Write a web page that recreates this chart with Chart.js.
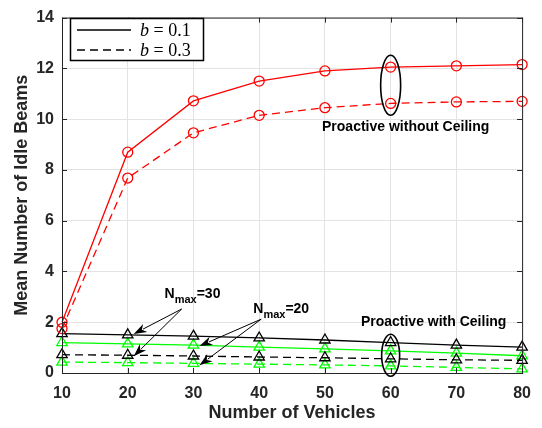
<!DOCTYPE html>
<html>
<head>
<meta charset="utf-8">
<script src="https://cdn.jsdelivr.net/npm/chart.js@4/dist/chart.umd.min.js"></script>
<style>
html,body{margin:0;padding:0;background:#fff;}
#wrap{width:542px;height:428px;}
</style>
</head>
<body>
<div id="wrap"><canvas id="c" width="542" height="428"></canvas></div>
<script>
const vehicles = [10, 20, 30, 40, 50, 60, 70, 80];
const noCeilB01 = [2.0, 8.7, 10.72, 11.5, 11.9, 12.05, 12.1, 12.15];
const noCeilB03 = [1.75, 7.68, 9.46, 10.15, 10.45, 10.62, 10.68, 10.7];
const n30B01 = [1.55, 1.5, 1.45, 1.38, 1.3, 1.2, 1.1, 1.02];
const n30B03 = [0.72, 0.7, 0.67, 0.63, 0.6, 0.56, 0.52, 0.5];
const n20B01 = [1.2, 1.15, 1.1, 1.02, 0.95, 0.87, 0.78, 0.68];
const n20B03 = [0.43, 0.41, 0.38, 0.35, 0.32, 0.28, 0.22, 0.16];
const yTicks = [0, 2, 4, 6, 8, 10, 12, 14];
const xTicks = [10, 20, 30, 40, 50, 60, 70, 80];

const RED = '#ff0000', GREEN = '#00ff00', BLACK = '#000000';
const DASH = [8, 5];

function ds(label, data, color, dashed, style) {
  return {
    label: label,
    data: vehicles.map((v, i) => ({x: v, y: data[i]})),
    borderColor: color,
    backgroundColor: 'rgba(0,0,0,0)',
    borderWidth: 1.3,
    borderDash: dashed ? DASH : [],
    pointStyle: style,
    pointRadius: style === 'circle' ? 5 : 6,
    pointBorderColor: color,
    pointBackgroundColor: 'rgba(0,0,0,0)',
    pointBorderWidth: 1.3,
    tension: 0
  };
}

const overlay = {
  id: 'overlay',
  afterDraw(chart) {
    const ctx = chart.ctx;
    const xs = chart.scales.x, ys = chart.scales.y;
    const a = chart.chartArea;
    const X = v => xs.getPixelForValue(v), Y = v => ys.getPixelForValue(v);
    ctx.save();
    // frame
    ctx.strokeStyle = '#262626';
    ctx.lineWidth = 1;
    ctx.strokeRect(a.left + 0.5, a.top + 0.5, a.right - a.left, a.bottom - a.top);
    // inward ticks
    ctx.beginPath();
    xTicks.forEach(v => {
      const px = Math.round(X(v)) + 0.5;
      ctx.moveTo(px, a.bottom); ctx.lineTo(px, a.bottom - 5);
      ctx.moveTo(px, a.top); ctx.lineTo(px, a.top + 5);
    });
    yTicks.forEach(v => {
      const py = Math.round(Y(v)) + 0.5;
      ctx.moveTo(a.left, py); ctx.lineTo(a.left + 5, py);
      ctx.moveTo(a.right, py); ctx.lineTo(a.right - 5, py);
    });
    ctx.stroke();

    // legend
    ctx.fillStyle = '#fff';
    ctx.fillRect(70, 18, 133, 42);
    ctx.strokeStyle = '#000';
    ctx.lineWidth = 1.5;
    ctx.strokeRect(70.5, 18.5, 133, 42);
    ctx.lineWidth = 1.6;
    ctx.beginPath(); ctx.moveTo(77, 30); ctx.lineTo(131, 30); ctx.stroke();
    ctx.setLineDash([8, 5]);
    ctx.beginPath(); ctx.moveTo(77, 50); ctx.lineTo(131, 50); ctx.stroke();
    ctx.setLineDash([]);
    ctx.fillStyle = '#000';
    ctx.textBaseline = 'middle';
    ctx.textAlign = 'left';
    function legText(y, val) {
      ctx.font = 'italic 18px "Liberation Serif"';
      ctx.fillText('b', 140, y);
      const w = ctx.measureText('b').width;
      ctx.font = '18px "Liberation Serif"';
      ctx.fillText(' = ' + val, 140 + w, y);
    }
    legText(31, '0.1');
    legText(51, '0.3');

    // ellipses
    ctx.strokeStyle = '#000';
    ctx.lineWidth = 1.6;
    ctx.beginPath();
    ctx.ellipse(X(60), (Y(noCeilB01[5]) + Y(noCeilB03[5])) / 2, 10, 30, 0, 0, Math.PI * 2);
    ctx.stroke();
    ctx.beginPath();
    ctx.ellipse(X(60), (Y(n30B01[5]) + Y(n20B03[5])) / 2 + 1, 9, 21, 0, 0, Math.PI * 2);
    ctx.stroke();

    // texts
    ctx.font = 'bold 14px "Liberation Sans"';
    ctx.textAlign = 'center';
    ctx.fillText('Proactive without Ceiling', X(60) + 15, Y(9.7));
    ctx.fillText('Proactive with Ceiling', X(60) + 43, Y(2.0));

    function nmax(xv, yv, num) {
      const px = X(xv), py = Y(yv);
      ctx.textAlign = 'left';
      ctx.textBaseline = 'alphabetic';
      ctx.font = 'bold 14px "Liberation Sans"';
      ctx.fillText('N', px, py);
      let w = ctx.measureText('N').width;
      ctx.font = 'bold 11px "Liberation Sans"';
      ctx.fillText('max', px + w, py + 5);
      w += ctx.measureText('max').width;
      ctx.font = 'bold 14px "Liberation Sans"';
      ctx.fillText('=' + num, px + w, py);
    }
    nmax(25.6, 2.94, '30');
    nmax(39.1, 2.35, '20');

    function arrow(x0, y0, x1, y1) {
      const ang = Math.atan2(y1 - y0, x1 - x0);
      const L = 13, W = 4.5;
      ctx.lineWidth = 1;
      ctx.beginPath(); ctx.moveTo(x0, y0);
      ctx.lineTo(x1 - L * 0.8 * Math.cos(ang), y1 - L * 0.8 * Math.sin(ang));
      ctx.stroke();
      ctx.beginPath();
      ctx.moveTo(x1, y1);
      ctx.lineTo(x1 - L * Math.cos(ang) + W * Math.sin(ang), y1 - L * Math.sin(ang) - W * Math.cos(ang));
      ctx.lineTo(x1 - L * 0.7 * Math.cos(ang), y1 - L * 0.7 * Math.sin(ang));
      ctx.lineTo(x1 - L * Math.cos(ang) - W * Math.sin(ang), y1 - L * Math.sin(ang) + W * Math.cos(ang));
      ctx.closePath();
      ctx.fill();
    }
    const t30x = X(28.2), t30y = Y(2.52);
    arrow(t30x, t30y, X(20) + 6, Y(n30B01[1]) - 1);
    arrow(t30x, t30y, X(20) + 6, Y(n30B03[1]) + 1);
    const t20x = X(40.3), t20y = Y(2.12);
    arrow(t20x, t20y, X(30) + 6, Y(n20B01[2]) + 1);
    arrow(t20x, t20y, X(30) + 6, Y(n20B03[2]) + 2);
    ctx.restore();
  }
};

new Chart(document.getElementById('c'), {
  type: 'line',
  data: {
    datasets: [
      ds('b=0.1 no ceiling', noCeilB01, RED, false, 'circle'),
      ds('b=0.3 no ceiling', noCeilB03, RED, true, 'circle'),
      ds('Nmax=30 b=0.1', n30B01, BLACK, false, 'triangle'),
      ds('Nmax=30 b=0.3', n30B03, BLACK, true, 'triangle'),
      ds('Nmax=20 b=0.1', n20B01, GREEN, false, 'triangle'),
      ds('Nmax=20 b=0.3', n20B03, GREEN, true, 'triangle')
    ]
  },
  options: {
    responsive: false,
    animation: false,
    clip: false,
    layout: {padding: {left: 0, right: 16, top: 10, bottom: 0}},
    plugins: {legend: {display: false}, tooltip: {enabled: false}},
    scales: {
      x: {
        type: 'linear', min: 10, max: 80,
        afterBuildTicks: s => { s.ticks = xTicks.map(v => ({value: v})); },
        afterFit: s => { s.height = 55; },
        grid: {color: '#e3e3e3', drawTicks: false, lineWidth: 1},
        border: {display: false},
        ticks: {color: '#262626', padding: 11, font: {family: '"Liberation Sans"', size: 16, weight: 'bold'}},
        title: {display: true, text: 'Number of Vehicles', color: '#262626', padding: {top: 8}, font: {family: '"Liberation Sans"', size: 18, weight: 'bold'}}
      },
      y: {
        type: 'linear', min: 0, max: 14,
        afterBuildTicks: s => { s.ticks = yTicks.map(v => ({value: v})); },
        afterFit: s => { s.width = 62; },
        grid: {color: '#e3e3e3', drawTicks: false, lineWidth: 1},
        border: {display: false},
        ticks: {color: '#262626', padding: 8, font: {family: '"Liberation Sans"', size: 16, weight: 'bold'}},
        title: {display: true, text: 'Mean Number of Idle Beams', color: '#262626', padding: {top: 11, bottom: 0}, font: {family: '"Liberation Sans"', size: 18, weight: 'bold'}}
      }
    }
  },
  plugins: [overlay]
});
</script>
</body>
</html>
